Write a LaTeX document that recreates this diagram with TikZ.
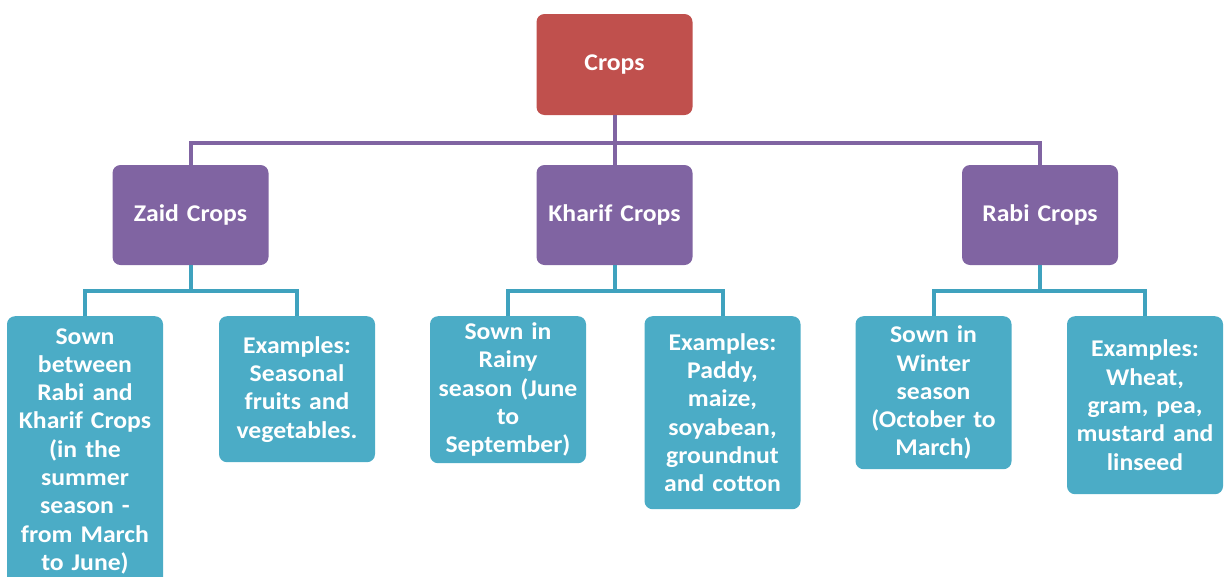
\documentclass[tikz,border=0pt]{standalone}
\usepackage{fontspec}
\setmainfont{Carlito}[FakeStretch=1.07]
\definecolor{cropred}{HTML}{C0504D}
\definecolor{croppurple}{HTML}{8064A2}
\definecolor{cropcyan}{HTML}{4BACC6}
\definecolor{linecyan}{HTML}{3FA2BE}
\tikzset{
  boxbase/.style={rectangle, rounded corners=8pt, text=white, align=center,
    font=\bfseries\fontsize{24}{28.3}\selectfont, inner sep=0pt,
    minimum width=156pt, text width=150pt},
  rootbox/.style={boxbase, fill=cropred, minimum height=101pt},
  midbox/.style={boxbase, fill=croppurple, minimum height=100pt},
  leafbox/.style={boxbase, fill=cropcyan, anchor=north},
  pline/.style={draw=croppurple, line width=4pt},
  cline/.style={draw=linecyan, line width=4pt}
}
\begin{document}
\begin{tikzpicture}[x=1pt,y=-1pt]
\useasboundingbox (0,0) rectangle (1225,576);
% root and level 1
\node[rootbox] (crops) at (614.5,64.5) {Crops};
\node[midbox] (zaid) at (190.5,215) {Zaid Crops};
\node[midbox] (kharif) at (614.5,215) {Kharif Crops};
\node[midbox] (rabi) at (1040,215) {Rabi Crops};
\coordinate (bar) at (614.5,143);
% leaves
\node[leafbox, minimum height=270pt] (zs) at (85,316) {Sown\\between\\Rabi and\\Kharif Crops\\(in the\\summer\\season -\\from March\\to June)};
\node[leafbox, minimum height=146pt] (ze) at (297,316) {Examples:\\Seasonal\\fruits and\\vegetables.};
\node[leafbox, minimum height=147pt] (ks) at (508,316) {Sown in\\Rainy\\season (June\\to\\September)};
\node[leafbox, minimum height=193pt] (ke) at (722.5,316) {Examples:\\Paddy,\\maize,\\soyabean,\\groundnut\\and cotton};
\node[leafbox, minimum height=153pt] (rs) at (933.5,316) {Sown in\\Winter\\season\\(October to\\March)};
\node[leafbox, minimum height=178pt] (re) at (1145,316) {Examples:\\Wheat,\\gram, pea,\\mustard and\\linseed};
% purple connectors
\draw[pline] (crops.south) -- (kharif.north);
\draw[pline] (crops.south |- bar) -| (zaid.north);
\draw[pline] (crops.south |- bar) -| (rabi.north);
% cyan connectors
\coordinate (zb) at (190.5,291);
\coordinate (kb) at (614.5,291);
\coordinate (rb) at (1040,291);
\draw[cline] (zaid.south) -- (zb);
\draw[cline] (zs.north) |- (zb) -| (ze.north);
\draw[cline] (kharif.south) -- (kb);
\draw[cline] (ks.north) |- (kb) -| (ke.north);
\draw[cline] (rabi.south) -- (rb);
\draw[cline] (rs.north) |- (rb) -| (re.north);
\end{tikzpicture}
\end{document}
